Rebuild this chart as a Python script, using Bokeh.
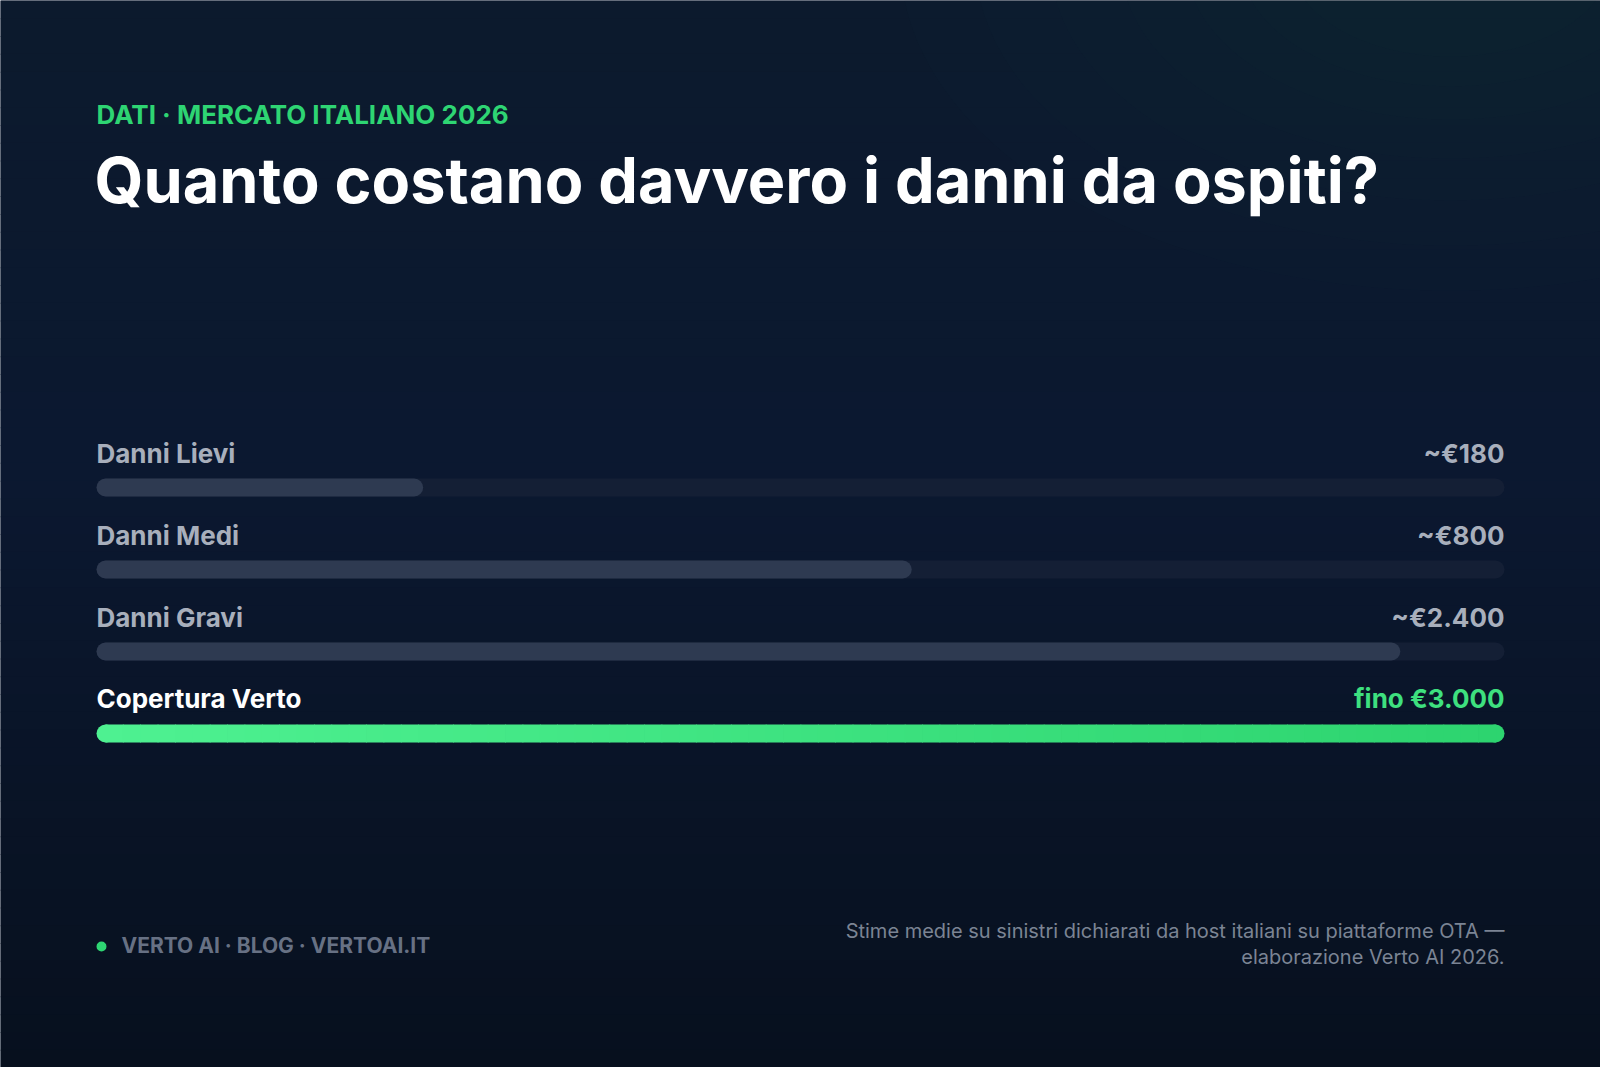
from bokeh.plotting import figure
from bokeh.models import Range1d, ColumnDataSource
from bokeh.embed import file_html
from bokeh.resources import INLINE
from bokeh.core.properties import value

# ---------------- data ----------------
categories = ["Danni Lievi", "Danni Medi", "Danni Gravi", "Copertura Verto"]
amount_eur = [180, 800, 2400, 3000]
amount_labels = ["~€180", "~€800", "~€2.400", "fino €3.000"]
bar_fill_pct = [23.2, 57.9, 92.6, 100.0]

kicker = "DATI · MERCATO ITALIANO 2026"
title = "Quanto costano davvero i danni da ospiti?"
footer = "VERTO AI · BLOG · VERTOAI.IT"
note_lines = ["Stime medie su sinistri dichiarati da host italiani su piattaforme OTA —",
              "elaborazione Verto AI 2026."]

# ---------------- layout (page pixels) ----------------
OX, OY = 0, 0
W, H = 1600, 1067
X0, X1 = 96, 1504          # track extent
BAR_H = 18
row_label_y = [462, 544, 626, 707]
row_bar_y = [487, 569, 651, 733]

FONT = value("Inter")


def bl(y, fs):
    # place the alphabetic baseline at y for a font of size fs
    return y - 0.364 * fs


p = figure(width=W, height=H, x_range=Range1d(OX, OX + W), y_range=Range1d(OY + H, OY),
           output_backend="svg", toolbar_location=None, min_border=0,
           x_axis_location=None, y_axis_location=None)
p.grid.visible = False
p.outline_line_color = None
p.background_fill_color = "#0b1830"
p.border_fill_color = "#0b1830"


def hex2rgb(h):
    h = h.lstrip("#")
    return tuple(int(h[i:i + 2], 16) for i in (0, 2, 4))


def mix(a, b, t):
    ra, rb = hex2rgb(a), hex2rgb(b)
    return "#%02x%02x%02x" % tuple(round(ra[i] + (rb[i] - ra[i]) * t) for i in range(3))


# background vertical gradient
stops = [(0.0, "#0c1a2d"), (0.45, "#0b1830"), (1.0, "#07101e")]
N = 60
bg = dict(left=[], right=[], top=[], bottom=[], color=[])
for i in range(N):
    t = (i + 0.5) / N
    for (s0, c0), (s1, c1) in zip(stops[:-1], stops[1:]):
        if s0 <= t <= s1:
            col = mix(c0, c1, (t - s0) / (s1 - s0))
    bg["left"].append(OX)
    bg["right"].append(OX + W)
    bg["top"].append(OY + i * H / N)
    bg["bottom"].append(OY + (i + 1) * H / N + 1)
    bg["color"].append(col)
p.quad(left="left", right="right", top="top", bottom="bottom", color="color",
       source=ColumnDataSource(bg), line_color=None)

# top-right glow
glow_w = [1100, 950, 800, 660, 530, 420, 320]
p.ellipse(x=[1450] * len(glow_w), y=[-40] * len(glow_w), width=glow_w,
          height=[w * 0.6 for w in glow_w], fill_color="#1d4250", fill_alpha=0.045,
          line_color=None)

# tracks
r = BAR_H / 2
p.segment(x0=[X0 + r] * 4, x1=[X1 - r] * 4, y0=row_bar_y, y1=row_bar_y,
          line_color="#141f35", line_width=BAR_H, line_cap="round")

# gray fills (first three rows)
fill_end = [X0 + (X1 - X0) * f / 100 for f in bar_fill_pct]
p.segment(x0=[X0 + r] * 3, x1=[e - r for e in fill_end[:3]], y0=row_bar_y[:3], y1=row_bar_y[:3],
          line_color="#2e3a51", line_width=BAR_H, line_cap="round")

# green coverage bar with gradient
g_left, g_right = "#4ef191", "#2dd46f"
ye = row_bar_y[3]
xe = fill_end[3]
p.segment(x0=[X0 + r], x1=[X0 + r + 1], y0=[ye], y1=[ye], line_color=g_left,
          line_width=BAR_H, line_cap="round")
p.segment(x0=[xe - r - 1], x1=[xe - r], y0=[ye], y1=[ye], line_color=g_right,
          line_width=BAR_H, line_cap="round")
NS = 80
gx0, gx1, gcol = [], [], []
for i in range(NS):
    a = X0 + r + (xe - X0 - 2 * r) * i / NS
    b = X0 + r + (xe - X0 - 2 * r) * (i + 1) / NS
    gx0.append(a)
    gx1.append(b + 0.8)
    gcol.append(mix(g_left, g_right, (i + 0.5) / NS))
p.segment(x0=gx0, x1=gx1, y0=[ye] * NS, y1=[ye] * NS, line_color=gcol,
          line_width=BAR_H, line_cap="butt")

# row labels
FS_ROW = 26
lab_colors = ["#a8afbc", "#a8afbc", "#a8afbc", "#ffffff"]
val_colors = ["#a8afbc", "#a8afbc", "#a8afbc", "#3ee07f"]
ly = [bl(y, FS_ROW) for y in row_label_y]
p.text(x=[X0] * 4, y=ly, text=categories, text_color=lab_colors,
       text_font=FONT, text_font_size=f"{FS_ROW}px", text_font_style="bold",
       text_align="left", text_baseline="alphabetic")
p.text(x=[X1] * 4, y=ly, text=amount_labels, text_color=val_colors,
       text_font=FONT, text_font_size=f"{FS_ROW}px", text_font_style="bold",
       text_align="right", text_baseline="alphabetic")

# kicker and title
p.text(x=[X0], y=[bl(123, 26)], text=[kicker], text_color="#2ed573", text_font=FONT,
       text_font_size="26px", text_font_style="bold", text_baseline="alphabetic")
p.text(x=[X0 - 2], y=[bl(202, 63)], text=[title], text_color="#ffffff", text_font=FONT,
       text_font_size="63px", text_font_style="bold", text_baseline="alphabetic")

# footer
p.scatter(x=[101], y=[946], size=10, marker="circle", color="#2ed573", line_color=None)
p.text(x=[121], y=[bl(953, 21)], text=[footer], text_color="#677184", text_font=FONT,
       text_font_size="21px", text_font_style="bold", text_baseline="alphabetic")
p.text(x=[X1, X1], y=[bl(938, 20), bl(964, 20)], text=note_lines, text_color="#7b8494",
       text_font=FONT, text_font_size="20px", text_align="right", text_baseline="alphabetic")

open("out.html", "w").write(file_html(p, INLINE))
